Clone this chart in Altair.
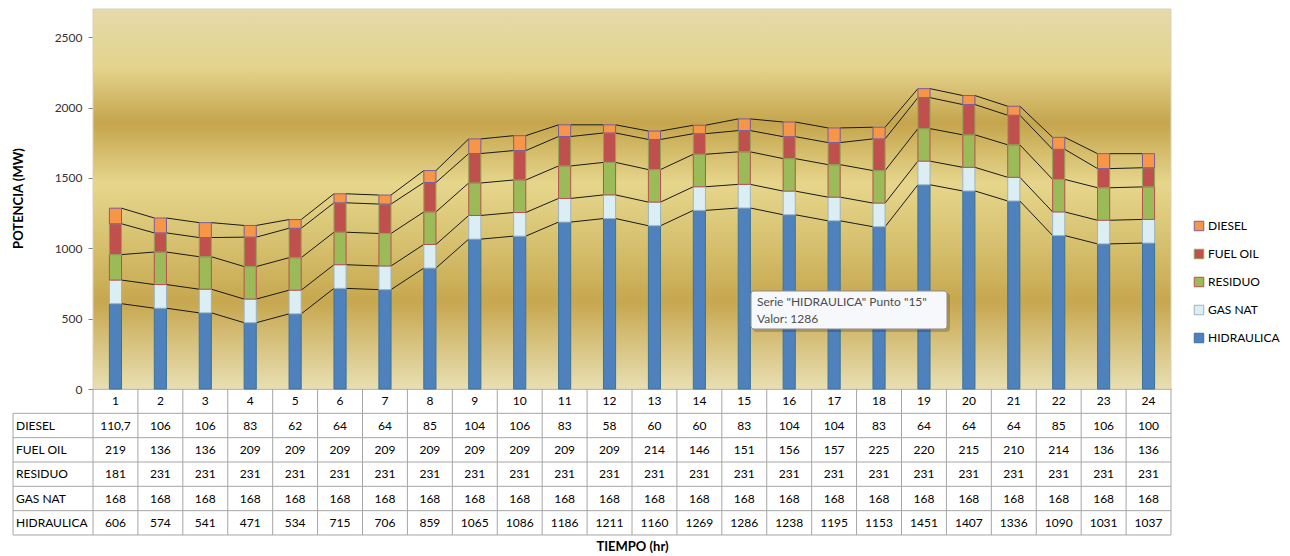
import altair as alt
import pandas as pd

hours = list(range(1, 25))
diesel = [110.7, 106, 106, 83, 62, 64, 64, 85, 104, 106, 83, 58, 60, 60, 83, 104, 104, 83, 64, 64, 64, 85, 106, 100]
fuel_oil = [219, 136, 136, 209, 209, 209, 209, 209, 209, 209, 209, 209, 214, 146, 151, 156, 157, 225, 220, 215, 210, 214, 136, 136]
residuo = [181] + [231] * 23
gas_nat = [168] * 24
hidraulica = [606, 574, 541, 471, 534, 715, 706, 859, 1065, 1086, 1186, 1211, 1160, 1269, 1286, 1238, 1195, 1153, 1451, 1407, 1336, 1090, 1031, 1037]

series_names = ["DIESEL", "FUEL OIL", "RESIDUO", "GAS NAT", "HIDRAULICA"]
series_vals = {"DIESEL": diesel, "FUEL OIL": fuel_oil, "RESIDUO": residuo,
               "GAS NAT": gas_nat, "HIDRAULICA": hidraulica}
fill_colors = ["#F79646", "#C0504D", "#9BBB59", "#DBEEF4", "#4F81BD"]
stroke_colors = ["#7A5C9E", "#8FA556", "#B7514E", "#9DB3C4", "#3C7396"]

W, H = 1078, 380
HW = 0.135  # half bar width in category units
FONT = "Lato"

# stacked bars (bottom: HIDRAULICA ... top: DIESEL)
stack_order = ["HIDRAULICA", "GAS NAT", "RESIDUO", "FUEL OIL", "DIESEL"]
bar_rows, cum_levels = [], {}
base = [0.0] * 24
for s in stack_order:
    top = [b + v for b, v in zip(base, series_vals[s])]
    for i, h in enumerate(hours):
        bar_rows.append({"serie": s, "x0": h - HW, "x1": h + HW, "y0": base[i], "y1": top[i]})
    cum_levels[s] = top
    base = top
bars_df = pd.DataFrame(bar_rows)

line_rows = []
for s in stack_order:
    lv = cum_levels[s]
    for i in range(23):
        line_rows.append({"xa": hours[i] + HW, "xb": hours[i + 1] - HW, "ya": lv[i], "yb": lv[i + 1]})
lines_df = pd.DataFrame(line_rows)

bg_df = pd.DataFrame([{"xa": 0.5, "xb": 24.5, "ya": 0, "yb": 2700}])

x_scale = alt.Scale(domain=[0.5, 24.5], nice=False, zero=False)
y_scale = alt.Scale(domain=[0, 2700], nice=False)

gradient = alt.Gradient(
    gradient="linear", x1=0, x2=0, y1=0, y2=1,
    stops=[
        alt.GradientStop(offset=0.0, color="#E4DAAA"),
        alt.GradientStop(offset=0.15, color="#E5D48E"),
        alt.GradientStop(offset=0.30, color="#C5A54D"),
        alt.GradientStop(offset=0.46, color="#E6D68C"),
        alt.GradientStop(offset=0.62, color="#D6C06E"),
        alt.GradientStop(offset=0.77, color="#C7A74F"),
        alt.GradientStop(offset=1.0, color="#E8DFB2"),
    ],
)

background = alt.Chart(bg_df).mark_rect(fill=gradient, stroke="#D9D2B8", strokeWidth=1).encode(
    x=alt.X("xa:Q", scale=x_scale,
            axis=alt.Axis(labels=False, ticks=False, grid=False, domainColor="#A0A0A0",
                          title="TIEMPO (hr)", titleFont=FONT, titleFontSize=13, titleFontWeight="bold",
                          titleColor="#000", titleY=157, titleBaseline="middle")),
    x2="xb:Q",
    y=alt.Y("ya:Q", scale=y_scale,
            axis=alt.Axis(values=[0, 500, 1000, 1500, 2000, 2500], format="d", grid=False,
                          domainColor="#868686",
                          tickColor="#868686", tickSize=5, labelFont=FONT, labelFontSize=12,
                          labelColor="#333", labelPadding=6,
                          title="POTENCIA  (MW)", titleFont=FONT, titleFontSize=13,
                          titleFontWeight="bold", titleColor="#000", titleX=-75, titleY=189,
                          titleAngle=-90, titleBaseline="middle", titleAlign="center")),
    y2="yb:Q",
)

bars = alt.Chart(bars_df).mark_rect(strokeWidth=1).encode(
    x=alt.X("x0:Q", scale=x_scale), x2="x1:Q",
    y=alt.Y("y0:Q", scale=y_scale), y2="y1:Q",
    fill=alt.Fill("serie:N", scale=alt.Scale(domain=series_names, range=fill_colors),
                  legend=alt.Legend(title=None, orient="none", legendX=1100, legendY=211,
                                    symbolType="square", symbolSize=90, symbolStrokeColor="#8080A0",
                                    symbolStrokeWidth=1, labelFont=FONT, labelFontSize=12,
                                    labelColor="#000", rowPadding=14, labelOffset=3)),
    stroke=alt.Stroke("serie:N", scale=alt.Scale(domain=series_names, range=stroke_colors), legend=None),
)

slines = alt.Chart(lines_df).mark_rule(color="#1A1A1A", strokeWidth=1).encode(
    x=alt.X("xa:Q", scale=x_scale), x2="xb:Q",
    y=alt.Y("ya:Q", scale=y_scale), y2="yb:Q",
)

# ---- data table below the plot (independent y scale: row index) ----
row_labels = ["DIESEL", "FUEL OIL", "RESIDUO", "GAS NAT", "HIDRAULICA"]

def fmt(v):
    return str(v).replace(".", ",") if isinstance(v, float) and v != int(v) else str(int(v))

cells = []
for h in hours:
    cells.append({"x": h, "r": 0.5, "t": str(h)})
for ri, s in enumerate(row_labels):
    for i, h in enumerate(hours):
        cells.append({"x": h, "r": ri + 1.5, "t": fmt(series_vals[s][i])})
cells_df = pd.DataFrame(cells)
labels_df = pd.DataFrame([{"r": ri + 1.5, "t": s} for ri, s in enumerate(row_labels)])
hlines_df = pd.DataFrame([{"r": r} for r in range(1, 7)])
vlines_df = pd.DataFrame([{"x": h - 0.5, "r0": 0, "r1": 6} for h in hours + [25]])
leftline_df = pd.DataFrame([{"r0": 1, "r1": 6}])

t_scale = alt.Scale(domain=[0, 6], range=[H, H + 146], nice=False, zero=False)

tab_text = alt.Chart(cells_df).mark_text(font=FONT, fontSize=12, color="#000", baseline="middle").encode(
    x=alt.X("x:Q", scale=x_scale), y=alt.Y("r:Q", scale=t_scale, axis=None), text="t:N")
tab_labels = alt.Chart(labels_df).mark_text(font=FONT, fontSize=12, color="#000", align="left",
                                            baseline="middle").encode(
    x=alt.value(-77), y=alt.Y("r:Q", scale=t_scale, axis=None), text="t:N")
tab_h = alt.Chart(hlines_df).mark_rule(color="#A6A6A6", strokeWidth=1).encode(
    x=alt.value(-80), x2=alt.value(W), y=alt.Y("r:Q", scale=t_scale, axis=None))
tab_v = alt.Chart(vlines_df).mark_rule(color="#A6A6A6", strokeWidth=1).encode(
    x=alt.X("x:Q", scale=x_scale), y=alt.Y("r0:Q", scale=t_scale, axis=None), y2="r1:Q")
tab_left = alt.Chart(leftline_df).mark_rule(color="#A6A6A6", strokeWidth=1).encode(
    x=alt.value(-80), y=alt.Y("r0:Q", scale=t_scale, axis=None), y2="r1:Q")

table = alt.layer(tab_h, tab_v, tab_left, tab_text, tab_labels)

# ---- tooltip box seen in the screenshot ----
tip_lines = ['Serie "HIDRAULICA" Punto "15"', "Valor: 1286"]
tip_df = pd.DataFrame([{"t": tip_lines[0], "t2": tip_lines[1]}])
tip_shadow = alt.Chart(tip_df).mark_rect(fill="#000", opacity=0.18, cornerRadius=3).encode(
    x=alt.value(660), x2=alt.value(857), y=alt.value(284), y2=alt.value(323))
tip_box = alt.Chart(tip_df).mark_rect(fill="#F7F8FB", stroke="#8C8C8C", strokeWidth=1, cornerRadius=3).encode(
    x=alt.value(658), x2=alt.value(854), y=alt.value(282), y2=alt.value(320))
tip_t1 = alt.Chart(tip_df).mark_text(font=FONT, fontSize=12, color="#4D4D4D", align="left", baseline="middle").encode(
    x=alt.value(664), y=alt.value(293), text="t:N")
tip_t2 = alt.Chart(tip_df).mark_text(font=FONT, fontSize=12, color="#4D4D4D", align="left", baseline="middle").encode(
    x=alt.value(664), y=alt.value(310), text="t2:N")

main = alt.layer(background, slines, bars, tip_shadow, tip_box, tip_t1, tip_t2)

chart = alt.layer(main, table).resolve_scale(y="independent").properties(
    width=W, height=H,
    padding={"left": 12, "top": 8, "right": 5, "bottom": 2},
    background="white",
).configure_view(stroke=None)

chart.save("out.html", embed_options={"renderer": "svg", "actions": False})
